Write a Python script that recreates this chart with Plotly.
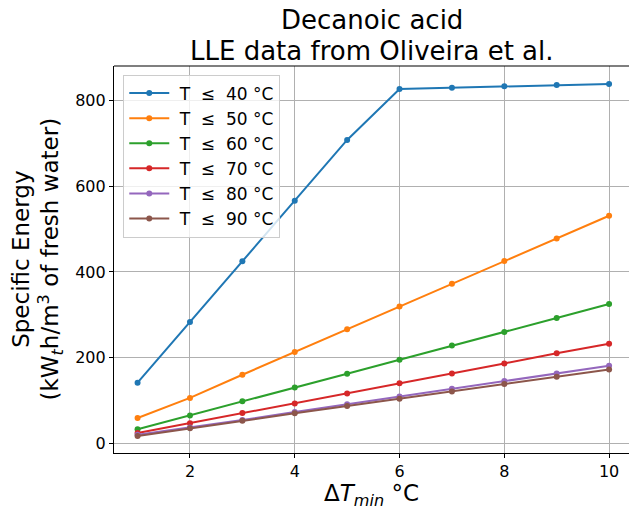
import plotly.graph_objects as go

# Temperature difference ΔT_min (°C)
dt_min = [1, 2, 3, 4, 5, 6, 7, 8, 9, 10]

# Specific energy (kWt·h per m³ of fresh water) for each max-temperature limit
series_names = ["T  ≤  40 °C", "T  ≤  50 °C", "T  ≤  60 °C",
                "T  ≤  70 °C", "T  ≤  80 °C", "T  ≤  90 °C"]
energy_40 = [141.5, 283, 425, 566, 708, 827, 830, 833, 836, 838.5]
energy_50 = [59, 106, 160, 213, 266, 319, 372.5, 425.5, 478, 531]
energy_60 = [33, 65, 98, 130, 162.5, 195, 228, 260, 292.5, 325]
energy_70 = [24, 47, 70.5, 93, 116.5, 140, 163, 186.5, 210, 232.5]
energy_80 = [20, 37, 54.5, 73, 91, 109.5, 127.5, 145.5, 163, 181]
energy_90 = [17, 35, 52.5, 70, 87, 104, 121, 138.5, 155.5, 172.5]

x_ticks = [2, 4, 6, 8, 10]
y_ticks = [0, 200, 400, 600, 800]

colors = ["#1f77b4", "#ff7f0e", "#2ca02c", "#d62728", "#9467bd", "#8c564b"]
all_series = [energy_40, energy_50, energy_60, energy_70, energy_80, energy_90]

FONT = "DejaVu Sans"

fig = go.Figure()
for name, vals, col in zip(series_names, all_series, colors):
    fig.add_trace(go.Scatter(
        x=dt_min, y=vals, name="\u00a0" + name.replace("  ", "\u00a0\u00a0"),
        mode="lines+markers",
        line=dict(color=col, width=2),
        marker=dict(color=col, size=6),
    ))

fig.update_layout(
    width=629, height=511,
    margin=dict(l=114, r=0, t=66, b=58),
    paper_bgcolor="white", plot_bgcolor="white",
    font=dict(family=FONT, color="black", size=16),
    legend=dict(
        x=0.018, y=0.978, xanchor="left", yanchor="top",
        bgcolor="rgba(255,255,255,0.8)", bordercolor="#cccccc", borderwidth=1,
        font=dict(size=17, family=FONT), itemwidth=40,
    ),
    showlegend=True,
)

fig.update_xaxes(
    range=[0.55, 10.38], tickvals=x_ticks, ticks="outside", ticklen=4, tickcolor="black",
    showline=True, linecolor="black", linewidth=1.2, mirror=False,
    showgrid=True, gridcolor="#b0b0b0", gridwidth=1, zeroline=False,
    tickfont=dict(size=16),
)
fig.update_yaxes(
    range=[-22.6, 880.5], tickvals=y_ticks, ticks="outside", ticklen=4, tickcolor="black",
    showline=True, linecolor="black", linewidth=1.2,
    showgrid=True, gridcolor="#b0b0b0", gridwidth=1, zeroline=False,
    tickfont=dict(size=16),
)

# title lines
fig.add_annotation(text="Decanoic acid", xref="paper", yref="paper", x=0.5, y=1.119,
                   xanchor="center", yanchor="middle", showarrow=False,
                   font=dict(size=26, family=FONT))
fig.add_annotation(text="LLE data from Oliveira et al.", xref="paper", yref="paper",
                   x=0.5, y=1.038, xanchor="center", yanchor="middle", showarrow=False,
                   font=dict(size=26, family=FONT))

# axis titles
fig.add_annotation(text="Δ<i>T</i><sub><i>min</i></sub> °C", xref="paper", yref="paper",
                   x=0.5, y=-0.108, xanchor="center", yanchor="middle", showarrow=False,
                   font=dict(size=23, family=FONT))
fig.add_annotation(text="Specific Energy<br>(kW<sub><i>t</i></sub>h/m<sup>3</sup> of fresh water)",
                   xref="paper", yref="paper", x=-0.1495, y=0.5, xanchor="center",
                   yanchor="middle", textangle=-90, showarrow=False,
                   font=dict(size=23, family=FONT))

# top spine
fig.add_shape(type="line", xref="paper", yref="paper", x0=0, x1=1, y0=1, y1=1,
              line=dict(color="black", width=1.2))

fig.write_html("out.html")
